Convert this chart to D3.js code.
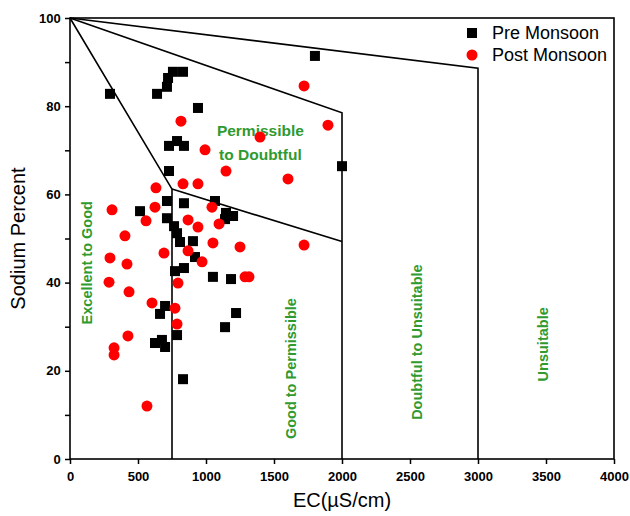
<!DOCTYPE html>
<html>
<head>
<meta charset="utf-8">
<script src="https://cdn.jsdelivr.net/npm/d3@7"></script>
<style>
  body { margin: 0; background: #fff; }
  svg { font-family: "Liberation Sans", Arial, sans-serif; }
  .tick text { font-weight: bold; font-size: 13px; }
</style>
</head>
<body>
<div id="chart"></div>
<script>
// Data_____________________________________________
const preEC = [294, 640, 713, 721, 757, 831, 941, 728, 787, 838, 1801, 2000, 728, 515, 713, 838, 713, 765, 787, 809,
    904, 919, 772, 838, 1066, 1147, 1199, 1140, 1051, 1184, 699, 662, 1221, 1140, 787, 625, 676, 699, 831];
const preNa = [82.8, 82.8, 84.4, 86.4, 87.8, 87.8, 79.6, 71.0, 72.1, 71.0, 91.4, 66.4, 65.3, 56.2, 58.5, 58.0, 54.6, 52.8, 51.2, 49.2,
    49.4, 45.8, 42.6, 43.3, 58.5, 55.8, 55.1, 54.4, 41.3, 40.8, 34.7, 32.9, 33.1, 29.9, 28.1, 26.3, 27.0, 25.4, 18.1];

const postEC = [1721, 1897, 1397, 816, 993, 1147, 1603, 632, 831, 941, 625, 1044, 309, 559, 868, 941, 1096, 404, 1051, 1250,
    1721, 294, 691, 868, 971, 419, 287, 794, 1287, 1316, 434, 603, 772, 787, 426, 324, 324, 566];
const postNa = [84.6, 75.7, 73.0, 76.6, 70.1, 65.3, 63.5, 61.5, 62.4, 62.4, 57.1, 57.1, 56.5, 54.0, 54.2, 52.6, 53.3, 50.6, 49.0, 48.1,
    48.5, 45.6, 46.7, 47.2, 44.7, 44.2, 40.1, 39.9, 41.3, 41.3, 37.9, 35.4, 34.2, 30.6, 27.9, 25.2, 23.6, 12.0];

// zone boundary lines (EC, Na%)
const boundaries = [
    [[0, 100], [750, 61.2], [750, 0]],
    [[750, 61.2], [2000, 49.3]],
    [[0, 100], [2000, 78.5], [2000, 0]],
    [[0, 100], [3000, 88.6], [3000, 0]]
];

const zoneLabels = [
    {text: 'Excellent to Good', x: 125, y: 44.5},
    {text: 'Good to Permissible', x: 1625, y: 20.5},
    {text: 'Doubtful to Unsuitable', x: 2550, y: 26.5},
    {text: 'Unsuitable', x: 3480, y: 26}
];

const xTicks = [0, 500, 1000, 1500, 2000, 2500, 3000, 3500, 4000];
const yTicks = [0, 10, 20, 30, 40, 50, 60, 70, 80, 90, 100];

// Layout___________________________________________
const width = 630;
const height = 516;
const margin = {top: 18, right: 16, bottom: 57, left: 70};
const plotW = width - margin.left - margin.right;
const plotH = height - margin.top - margin.bottom;
const green = '#2f9a2f';

const svg = d3.select('#chart')
    .append('svg')
    .attr('width', width)
    .attr('height', height);

const g = svg.append('g')
    .attr('transform', `translate(${margin.left},${margin.top})`);

// Scales and axes__________________________________
const xScale = d3.scaleLinear().domain([0, 4000]).range([0, plotW]);
const yScale = d3.scaleLinear().domain([0, 100]).range([plotH, 0]);

const xAxis = d3.axisBottom(xScale)
    .tickValues(xTicks)
    .tickSize(5)
    .tickSizeOuter(0)
    .tickFormat(d3.format('d'));
const yAxis = d3.axisLeft(yScale)
    .tickValues(yTicks)
    .tickSize(5)
    .tickSizeOuter(0)
    .tickFormat(d => d % 20 === 0 ? d : '');

g.append('g')
    .attr('transform', `translate(0,${plotH})`)
    .call(xAxis)
    .call(a => a.selectAll('.tick line').attr('stroke-width', 1.5))
    .call(a => a.select('.domain').remove())
    .selectAll('text')
    .attr('dy', '1.1em');

g.append('g')
    .call(yAxis)
    .call(a => a.selectAll('.tick line').attr('stroke-width', 1.5))
    .call(a => a.select('.domain').remove())
    .selectAll('text')
    .attr('dx', '-0.1em');

// frame
g.append('rect')
    .attr('width', plotW)
    .attr('height', plotH)
    .attr('fill', 'none')
    .attr('stroke', '#000')
    .attr('stroke-width', 1.6);

// Zone boundaries__________________________________
const line = d3.line().x(d => xScale(d[0])).y(d => yScale(d[1]));
g.selectAll('path.zone')
    .data(boundaries)
    .enter()
    .append('path')
    .attr('class', 'zone')
    .attr('d', line)
    .attr('fill', 'none')
    .attr('stroke', '#000')
    .attr('stroke-width', 1.6);

// Zone labels______________________________________
g.selectAll('text.zone-label')
    .data(zoneLabels)
    .enter()
    .append('text')
    .attr('class', 'zone-label')
    .attr('transform', d => `translate(${xScale(d.x)},${yScale(d.y)}) rotate(-90)`)
    .attr('text-anchor', 'middle')
    .attr('dy', '0.35em')
    .attr('fill', green)
    .style('font-weight', 'bold')
    .style('font-size', '14.5px')
    .text(d => d.text);

const pd = g.append('text')
    .attr('text-anchor', 'middle')
    .attr('fill', green)
    .style('font-weight', 'bold')
    .style('font-size', '15.5px');
pd.append('tspan').attr('x', xScale(1400)).attr('y', yScale(73.3)).text('Permissible');
pd.append('tspan').attr('x', xScale(1400)).attr('y', yScale(67.8)).text('to Doubtful');

// Data points______________________________________
const pre = preEC.map((d, i) => [d, preNa[i]]);
const post = postEC.map((d, i) => [d, postNa[i]]);

g.selectAll('rect.pre')
    .data(pre)
    .enter()
    .append('rect')
    .attr('class', 'pre')
    .attr('x', d => xScale(d[0]) - 5)
    .attr('y', d => yScale(d[1]) - 5)
    .attr('width', 10)
    .attr('height', 10)
    .attr('fill', '#000');

g.selectAll('circle.post')
    .data(post)
    .enter()
    .append('circle')
    .attr('class', 'post')
    .attr('cx', d => xScale(d[0]))
    .attr('cy', d => yScale(d[1]))
    .attr('r', 5.5)
    .attr('fill', '#f00');

// Legend___________________________________________
const legend = svg.append('g').attr('transform', 'translate(472,33)');
legend.append('rect').attr('x', -5).attr('y', -5).attr('width', 10).attr('height', 10).attr('fill', '#000');
legend.append('circle').attr('cx', 0).attr('cy', 22).attr('r', 5.5).attr('fill', '#f00');
legend.selectAll('text')
    .data(['Pre Monsoon', 'Post Monsoon'])
    .enter()
    .append('text')
    .attr('x', 20)
    .attr('y', (d, i) => i * 22)
    .attr('dy', '0.35em')
    .style('font-size', '18px')
    .text(d => d);

// Axis titles______________________________________
svg.append('text')
    .attr('x', margin.left + plotW / 2)
    .attr('y', 507)
    .attr('text-anchor', 'middle')
    .style('font-size', '20px')
    .text('EC(\u00b5S/cm)');

svg.append('text')
    .attr('transform', `translate(25,${margin.top + plotH / 2}) rotate(-90)`)
    .attr('text-anchor', 'middle')
    .style('font-size', '20px')
    .text('Sodium Percent');
</script>
</body>
</html>
